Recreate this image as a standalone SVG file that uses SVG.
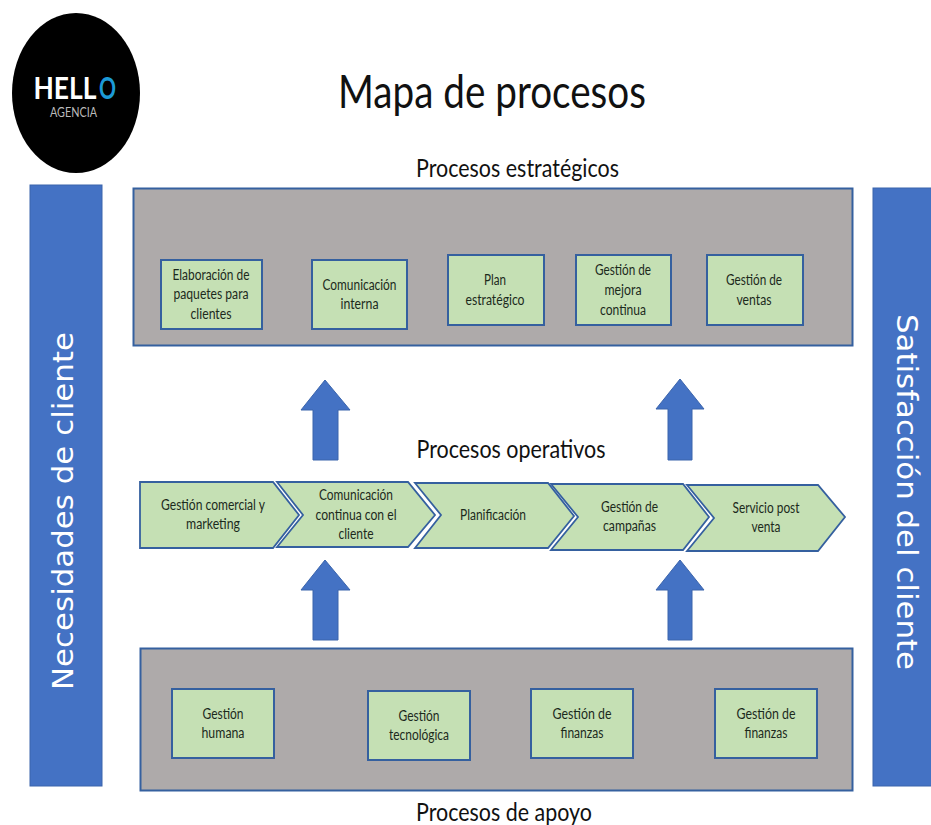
<svg xmlns="http://www.w3.org/2000/svg" width="931" height="825" viewBox="0 0 931 825">
<style>
text{font-family:"Lato","Carlito","Liberation Sans",sans-serif;text-anchor:middle}
.bar{fill:#4472c4;stroke:#3a64ac;stroke-width:1}
.panel{fill:#aeaaaa;stroke:#35609f;stroke-width:2}
.box{fill:#c5e0b4;stroke:#35609f;stroke-width:2}
.chev{fill:#c5e0b4;stroke:#35609f;stroke-width:1.800;stroke-linejoin:miter}
.arrow{fill:#4472c4;stroke:#3a64ac;stroke-width:1}
.lbl{font-size:14.500px;fill:#1c2a1c}
.head{font-size:25px;fill:#111}
.side{font-family:"DejaVu Sans",sans-serif;font-size:29px;fill:#fff}
</style>
<rect width="931" height="825" fill="#fff"/>
<g id="logo">
<ellipse cx="76" cy="93" rx="64" ry="80" fill="#000"/>
<text x="65" y="99" font-size="29.500" font-weight="700" fill="#fff" textLength="63" lengthAdjust="spacingAndGlyphs">HELL</text>
<text x="107.500" y="99" font-size="29.500" font-weight="700" fill="#1c9ad6" textLength="17" lengthAdjust="spacingAndGlyphs">O</text>
<text x="73.500" y="117" font-size="12.500" fill="#bbb" textLength="47" lengthAdjust="spacingAndGlyphs">AGENCIA</text>
</g>
<text id="title" x="492" y="108" font-size="46" fill="#111" textLength="308" lengthAdjust="spacingAndGlyphs">Mapa de procesos</text>
<text class="head" x="517.500" y="177" textLength="203" lengthAdjust="spacingAndGlyphs">Procesos estratégicos</text>
<text class="head" x="511" y="458" textLength="189" lengthAdjust="spacingAndGlyphs">Procesos operativos</text>
<text class="head" x="504" y="821" textLength="176" lengthAdjust="spacingAndGlyphs">Procesos de apoyo</text>
<g id="bar-necesidades">
<rect class="bar" x="30" y="185" width="72" height="601"/>
<text class="side" transform="translate(73 511) rotate(-90)" textLength="358" lengthAdjust="spacingAndGlyphs">Necesidades de cliente</text>
</g>
<g id="bar-satisfaccion">
<rect class="bar" x="873" y="188" width="60" height="598"/>
<text class="side" transform="translate(897 492) rotate(90)" textLength="356" lengthAdjust="spacingAndGlyphs">Satisfacción del cliente</text>
</g>
<g id="panel-estrategicos"><rect class="panel" x="133.500" y="188.500" width="719" height="157"/></g>
<g id="panel-apoyo"><rect class="panel" x="140.500" y="648.500" width="712" height="142"/></g>
<g id="connectors">
<polygon class="arrow" points="325,380 350,410 338,410 338,460 313,460 313,410 301,410"/>
<polygon class="arrow" points="680,379 704,409 692,409 692,460 668,460 668,409 656,409"/>
<polygon class="arrow" points="325,560 350,590 338,590 338,640 313,640 313,590 301,590"/>
<polygon class="arrow" points="680,560 704,590 692,590 692,640 668,640 668,590 656,590"/>
</g>
<g id="n1"><rect class="box" x="161" y="260" width="101" height="69"/>
<text class="lbl" x="211" y="280" textLength="77" lengthAdjust="spacingAndGlyphs">Elaboración de</text><text class="lbl" x="211" y="299" textLength="75" lengthAdjust="spacingAndGlyphs">paquetes para</text><text class="lbl" x="211" y="319" textLength="41" lengthAdjust="spacingAndGlyphs">clientes</text></g>
<g id="n2"><rect class="box" x="312" y="260" width="95" height="69"/>
<text class="lbl" x="359.500" y="290" textLength="74" lengthAdjust="spacingAndGlyphs">Comunicación</text><text class="lbl" x="359.500" y="309" textLength="38" lengthAdjust="spacingAndGlyphs">interna</text></g>
<g id="n3"><rect class="box" x="448" y="255" width="96" height="70"/>
<text class="lbl" x="495" y="285" textLength="22" lengthAdjust="spacingAndGlyphs">Plan</text><text class="lbl" x="495" y="305" textLength="59" lengthAdjust="spacingAndGlyphs">estratégico</text></g>
<g id="n4"><rect class="box" x="576" y="255" width="95" height="70"/>
<text class="lbl" x="623" y="275" textLength="56" lengthAdjust="spacingAndGlyphs">Gestión de</text><text class="lbl" x="623" y="295" textLength="37" lengthAdjust="spacingAndGlyphs">mejora</text><text class="lbl" x="623" y="315" textLength="46" lengthAdjust="spacingAndGlyphs">continua</text></g>
<g id="n5"><rect class="box" x="707" y="255" width="96" height="70"/>
<text class="lbl" x="754" y="285" textLength="56" lengthAdjust="spacingAndGlyphs">Gestión de</text><text class="lbl" x="754" y="305" textLength="35" lengthAdjust="spacingAndGlyphs">ventas</text></g>
<g id="c1"><polygon class="chev" points="140,482 273,482 299,515 273,548 140,548"/>
<text class="lbl" x="213" y="510" textLength="104" lengthAdjust="spacingAndGlyphs">Gestión comercial y</text><text class="lbl" x="213" y="529" textLength="54" lengthAdjust="spacingAndGlyphs">marketing</text></g>
<g id="c2"><polygon class="chev" points="277,482 408,482 435,515 408,547 277,547 303,515"/>
<text class="lbl" x="356" y="500" textLength="74" lengthAdjust="spacingAndGlyphs">Comunicación</text><text class="lbl" x="356" y="520" textLength="81" lengthAdjust="spacingAndGlyphs">continua con el</text><text class="lbl" x="356" y="539" textLength="35" lengthAdjust="spacingAndGlyphs">cliente</text></g>
<g id="c3"><polygon class="chev" points="415,483 548,483 574,516 548,548 415,548 441,515"/>
<text class="lbl" x="493" y="520" textLength="66" lengthAdjust="spacingAndGlyphs">Planificación</text></g>
<g id="c4"><polygon class="chev" points="551,484 683,484 709,517 683,550 551,550 578,517"/>
<text class="lbl" x="629.500" y="512" textLength="57" lengthAdjust="spacingAndGlyphs">Gestión de</text><text class="lbl" x="629.500" y="531" textLength="53" lengthAdjust="spacingAndGlyphs">campañas</text></g>
<g id="c5"><polygon class="chev" points="687,485 818,485 845,517 818,551 687,551 714,518"/>
<text class="lbl" x="766" y="513" textLength="67" lengthAdjust="spacingAndGlyphs">Servicio post</text><text class="lbl" x="766" y="532" textLength="29" lengthAdjust="spacingAndGlyphs">venta</text></g>
<g id="b1"><rect class="box" x="172" y="689" width="102" height="69"/>
<text class="lbl" x="223" y="719" textLength="41" lengthAdjust="spacingAndGlyphs">Gestión</text><text class="lbl" x="223" y="738" textLength="43" lengthAdjust="spacingAndGlyphs">humana</text></g>
<g id="b2"><rect class="box" x="368" y="691" width="102" height="69"/>
<text class="lbl" x="419" y="721" textLength="41" lengthAdjust="spacingAndGlyphs">Gestión</text><text class="lbl" x="419" y="740" textLength="60" lengthAdjust="spacingAndGlyphs">tecnológica</text></g>
<g id="b3"><rect class="box" x="531" y="689" width="102" height="69"/>
<text class="lbl" x="582" y="719" textLength="59" lengthAdjust="spacingAndGlyphs">Gestión  de</text><text class="lbl" x="582" y="738" textLength="43" lengthAdjust="spacingAndGlyphs">finanzas</text></g>
<g id="b4"><rect class="box" x="715" y="689" width="102" height="69"/>
<text class="lbl" x="766" y="719" textLength="59" lengthAdjust="spacingAndGlyphs">Gestión  de</text><text class="lbl" x="766" y="738" textLength="43" lengthAdjust="spacingAndGlyphs">finanzas</text></g>
</svg>
